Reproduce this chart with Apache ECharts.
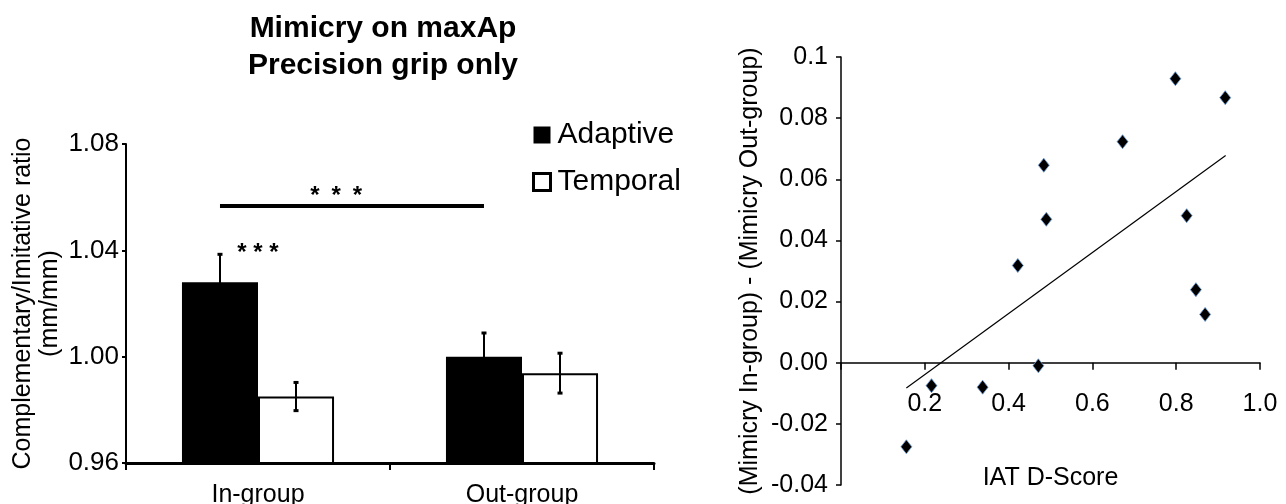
<!DOCTYPE html>
<html>
<head>
<meta charset="utf-8">
<script src="https://cdn.jsdelivr.net/npm/echarts/dist/echarts.min.js"></script>
<style>
  html, body { margin: 0; padding: 0; background: #fff; }
  #chart { width: 1286px; height: 504px; }
</style>
</head>
<body>
<div id="chart"></div>
<script>
// ---------- Left panel: bar chart ----------
const categories = ['In-group', 'Out-group'];
const adaptiveMeans = [1.028, 1.000];
const adaptiveErrors = [0.0105, 0.0089];
const temporalMeans = [0.985, 0.9938];
const temporalErrors = [0.0053, 0.0075];
const leftYTickLabels = ['0.96', '1.00', '1.04', '1.08'];
// significance bracket between In-group Adaptive and Out-group Adaptive
const bracketFrom = [0];
const bracketTo = [1];
const bracketLevel = [1.0567];
const bracketStarLevel = [1.0627];
const bracketStars = ['*\u2002*\u2002*'];
// stars above the In-group pair
const pairStarCategory = [0];
const pairStarLevel = [1.0413];
const pairStars = ['* * *'];

// ---------- Right panel: scatter ----------
const iatScores = [0.156, 0.216, 0.338, 0.422, 0.471, 0.484, 0.490, 0.672, 0.798, 0.825, 0.847, 0.869, 0.917];
const mimicryDiff = [-0.0275, -0.0075, -0.0080, 0.0318, -0.0010, 0.0646, 0.0469, 0.0723, 0.0929, 0.0481, 0.0239, 0.0158, 0.0867];
const trendX = [0.156, 0.918];
const trendY = [-0.0083, 0.0678];
const rightYTickLabels = ['-0.04', '-0.02', '0.00', '0.02', '0.04', '0.06', '0.08', '0.1'];
const rightXTickLabels = ['', '0.2', '0.4', '0.6', '0.8', '1.0'];

const FONT = 'Liberation Sans, Arial, Helvetica, sans-serif';
const CAT_GAP = 0.424; // barCategoryGap fraction

// right grid geometry (layout, not data)
const RG = { left: 841, right: 26, top: 57, bottom: 19 };
const R_YMIN = -0.04, R_YMAX = 0.1;
const rGridH = 504 - RG.top - RG.bottom;
// move the x axis line up to the zero level of the y scale
const rZeroOffset = -rGridH * (0 - R_YMIN) / (R_YMAX - R_YMIN);

function barOffset(api, seriesIdx) {
  const band = api.size([1, 0])[0];
  const bw = band * (1 - CAT_GAP) / 2;
  return seriesIdx === 0 ? -bw / 2 : bw / 2;
}

const errorData = [];
categories.forEach((c, i) => {
  errorData.push([i, 0, adaptiveMeans[i], adaptiveErrors[i]]);
  errorData.push([i, 1, temporalMeans[i], temporalErrors[i]]);
});

const bracketData = bracketFrom.map((f, i) => [f, bracketTo[i], bracketLevel[i], bracketStarLevel[i]]);
const pairStarData = pairStarCategory.map((c, i) => [c, pairStarLevel[i]]);

const scatterData = iatScores.map((x, i) => [x, mimicryDiff[i]]);
const trendData = trendX.map((x, i) => [x, trendY[i]]);

const chart = echarts.init(document.getElementById('chart'), null, { renderer: 'canvas' });

const STAR_FONT = 'bold 24px ' + FONT;

const option = {
  backgroundColor: '#ffffff',
  animation: false,
  textStyle: { fontFamily: FONT, color: '#000' },
  title: {
    text: 'Mimicry on maxAp\nPrecision grip only',
    left: 383,
    top: 10,
    padding: 0,
    textAlign: 'center',
    textStyle: { fontFamily: FONT, fontSize: 30, fontWeight: 'bold', color: '#000', lineHeight: 37 }
  },
  legend: {
    orient: 'vertical',
    left: 532,
    top: 120,
    padding: 0,
    itemWidth: 17,
    itemHeight: 17,
    itemGap: 17,
    icon: 'rect',
    textStyle: { fontFamily: FONT, fontSize: 30, color: '#000', padding: [0, 0, 0, 2] },
    data: [
      { name: 'Adaptive', itemStyle: { color: '#000', borderWidth: 0 } },
      { name: 'Temporal', itemStyle: { color: '#fff', borderColor: '#000', borderWidth: 3 } }
    ]
  },
  grid: [
    { left: 126, right: 632, top: 144, bottom: 41, outerBoundsMode: 'none', containLabel: false },
    { left: RG.left, right: RG.right, top: RG.top, bottom: RG.bottom, outerBoundsMode: 'none', containLabel: false }
  ],
  xAxis: [
    {
      gridIndex: 0,
      type: 'category',
      data: categories,
      axisLine: { show: true, onZero: false, lineStyle: { color: '#000', width: 3 } },
      axisTick: { show: true, length: 7, interval: 0, lineStyle: { color: '#000', width: 2 } },
      axisLabel: { fontFamily: FONT, fontSize: 25, color: '#000', margin: 20 },
      splitLine: { show: false }
    },
    {
      gridIndex: 1,
      type: 'value',
      min: 0,
      max: 1.0,
      interval: 0.2,
      offset: rZeroOffset,
      axisLine: { show: true, onZero: false, lineStyle: { color: '#000', width: 1.5 } },
      axisTick: { show: true, length: 7, lineStyle: { color: '#000', width: 1.5 } },
      axisLabel: {
        fontFamily: FONT, fontSize: 25, color: '#000', margin: 29,
        formatter: (v) => rightXTickLabels[Math.round(v / 0.2)] || ''
      },
      splitLine: { show: false },
      name: 'IAT D-Score',
      nameLocation: 'middle',
      nameGap: 103,
      nameMoveOverlap: false,
      nameTextStyle: { fontFamily: FONT, fontSize: 25, color: '#000' }
    }
  ],
  yAxis: [
    {
      gridIndex: 0,
      type: 'value',
      min: 0.96,
      max: 1.08,
      interval: 0.04,
      axisLine: { show: true, lineStyle: { color: '#000', width: 2 } },
      axisTick: { show: true, length: 4, lineStyle: { color: '#000', width: 2 } },
      axisLabel: {
        fontFamily: FONT, fontSize: 26, color: '#000', margin: 7,
        formatter: (v) => leftYTickLabels[Math.round((v - 0.96) / 0.04)]
      },
      splitLine: { show: false },
      name: 'Complementary/Imitative ratio\n(mm/mm)',
      nameLocation: 'middle',
      nameGap: 62,
      nameMoveOverlap: false,
      nameTextStyle: { fontFamily: FONT, fontSize: 25, color: '#000', lineHeight: 27 }
    },
    {
      gridIndex: 1,
      type: 'value',
      min: R_YMIN,
      max: R_YMAX,
      interval: 0.02,
      axisLine: { show: true, lineStyle: { color: '#000', width: 1.5 } },
      axisTick: { show: true, length: 5, lineStyle: { color: '#000', width: 1.5 } },
      axisLabel: {
        fontFamily: FONT, fontSize: 25, color: '#000', margin: 13,
        formatter: (v) => rightYTickLabels[Math.round((v - R_YMIN) / 0.02)]
      },
      splitLine: { show: false },
      name: '(Mimicry In-group) - (Mimicry Out-group)',
      nameLocation: 'middle',
      nameGap: 78,
      nameMoveOverlap: false,
      nameTextStyle: { fontFamily: FONT, fontSize: 25, color: '#000' }
    }
  ],
  series: [
    {
      name: 'Adaptive',
      type: 'bar',
      xAxisIndex: 0, yAxisIndex: 0,
      data: adaptiveMeans,
      barGap: '0%',
      barCategoryGap: (CAT_GAP * 100) + '%',
      itemStyle: { color: '#000', borderColor: '#000', borderWidth: 2 },
      z: 2
    },
    {
      name: 'Temporal',
      type: 'bar',
      xAxisIndex: 0, yAxisIndex: 0,
      data: temporalMeans,
      barGap: '0%',
      barCategoryGap: (CAT_GAP * 100) + '%',
      itemStyle: { color: '#fff', borderColor: '#000', borderWidth: 2 },
      z: 2
    },
    {
      name: 'errors',
      type: 'custom',
      xAxisIndex: 0, yAxisIndex: 0,
      data: errorData,
      z: 5,
      silent: true,
      renderItem: function (params, api) {
        const cat = api.value(0), s = api.value(1), m = api.value(2), e = api.value(3);
        const c = api.coord([cat, m]);
        const x = c[0] + barOffset(api, s);
        const top = api.coord([cat, m + e])[1];
        const bot = api.coord([cat, m - e])[1];
        const cap = 2.5;
        return {
          type: 'group',
          children: [
            { type: 'line', shape: { x1: x, y1: top, x2: x, y2: bot }, style: { stroke: '#000', lineWidth: 2 } },
            { type: 'line', shape: { x1: x - cap, y1: top, x2: x + cap, y2: top }, style: { stroke: '#000', lineWidth: 3 } },
            { type: 'line', shape: { x1: x - cap, y1: bot, x2: x + cap, y2: bot }, style: { stroke: '#000', lineWidth: 3 } }
          ]
        };
      }
    },
    {
      name: 'bracket',
      type: 'custom',
      xAxisIndex: 0, yAxisIndex: 0,
      data: bracketData,
      z: 6,
      silent: true,
      renderItem: function (params, api) {
        const f = api.value(0), t = api.value(1), lv = api.value(2), sl = api.value(3);
        const p1 = api.coord([f, lv]);
        const p2 = api.coord([t, lv]);
        const x1 = p1[0] + barOffset(api, 0);
        const x2 = p2[0] + barOffset(api, 0);
        const sy = api.coord([f, sl])[1];
        const sx = x1 + (x2 - x1) * 0.44;
        return {
          type: 'group',
          children: [
            { type: 'line', shape: { x1: x1, y1: p1[1], x2: x2, y2: p2[1] }, style: { stroke: '#000', lineWidth: 4 } },
            { type: 'text', style: { text: bracketStars[params.dataIndex], x: sx, y: sy + 6, font: STAR_FONT, fill: '#000', align: 'center', verticalAlign: 'middle' } }
          ]
        };
      }
    },
    {
      name: 'pairStars',
      type: 'custom',
      xAxisIndex: 0, yAxisIndex: 0,
      data: pairStarData,
      z: 6,
      silent: true,
      renderItem: function (params, api) {
        const p = api.coord([api.value(0), api.value(1)]);
        return {
          type: 'text',
          style: { text: pairStars[params.dataIndex], x: p[0], y: p[1] + 6, font: STAR_FONT, fill: '#000', align: 'center', verticalAlign: 'middle' }
        };
      }
    },
    {
      name: 'scores',
      type: 'scatter',
      xAxisIndex: 1, yAxisIndex: 1,
      data: scatterData,
      symbol: 'diamond',
      symbolSize: [11, 14],
      itemStyle: { color: '#000', borderColor: '#6f9fd8', borderWidth: 0.8, opacity: 1 },
      z: 4
    },
    {
      name: 'trend',
      type: 'line',
      xAxisIndex: 1, yAxisIndex: 1,
      data: trendData,
      showSymbol: false,
      symbol: 'none',
      lineStyle: { color: '#000', width: 1.2 },
      z: 3
    }
  ]
};

chart.setOption(option);
</script>
</body>
</html>
